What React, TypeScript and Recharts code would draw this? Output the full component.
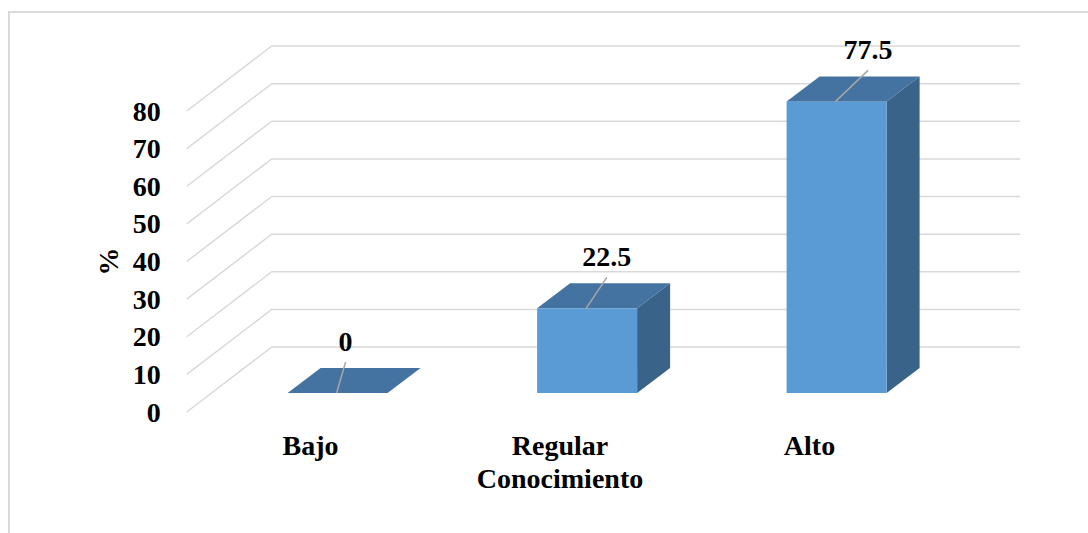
import { BarChart, Bar, XAxis, YAxis, CartesianGrid, LabelList, Label } from 'recharts';

const categories = ['Bajo', 'Regular', 'Alto'];
const porcentajes = [0, 22.5, 77.5];
const yTicks = [0, 10, 20, 30, 40, 50, 60, 70, 80];

const data = categories.map((name, i) => ({ name, value: porcentajes[i] }));

const FONT = '"Liberation Serif", "Times New Roman", serif';
const FRONT = '#5B9BD5';
const TOP = '#4473A1';
const SIDE = '#396388';
const GRID = '#d9d9d9';
// depth of the 3d box and of the walls
const DX = 33;
const DY = -25;

function Box3D(props: any) {
  const { x, y, width, height } = props;
  const w = width;
  const h = Math.max(height, 0);
  return (
    <g>
      <polygon
        points={`${x + w},${y} ${x + w + DX},${y + DY} ${x + w + DX},${y + h + DY} ${x + w},${y + h}`}
        fill={SIDE}
      />
      <rect x={x} y={y} width={w} height={h} fill={FRONT} />
      <polygon
        points={`${x},${y} ${x + w},${y} ${x + w + DX},${y + DY} ${x + DX},${y + DY}`}
        fill={TOP}
      />
    </g>
  );
}

function WallLine(props: any) {
  const { x1, x2, y1 } = props;
  return (
    <polyline
      points={`${x1 - 26},${y1 + 19} ${x1 + 59},${y1 - 46} ${x2 + 59},${y1 - 46}`}
      fill="none"
      stroke={GRID}
      strokeWidth={1.5}
    />
  );
}

function YTick(props: any) {
  const { x, y, payload } = props;
  return (
    <text x={x - 44} y={y + 28.5} textAnchor="end" fontFamily={FONT} fontWeight="bold" fontSize={28} fill="#000">
      {payload.value}
    </text>
  );
}

function XTick(props: any) {
  const { x, y, payload } = props;
  return (
    <text x={x - 27} y={y + 54} textAnchor="middle" fontFamily={FONT} fontWeight="bold" fontSize={28} fill="#000">
      {payload.value}
    </text>
  );
}

function ValueLabel(props: any) {
  const { x, y, width, value } = props;
  const cx = x + width / 2;
  const dx = 8 + (cx - 337.5) * 0.047;
  return (
    <g>
      <line x1={cx - 1} y1={y} x2={cx + dx} y2={y - 31} stroke="#a6a6a6" strokeWidth={1.5} />
      <text x={cx + dx} y={y - 42} textAnchor="middle" fontFamily={FONT} fontWeight="bold" fontSize={28} fill="#000">
        {value}
      </text>
    </g>
  );
}

export default function App() {
  return (
    <div style={{ position: 'relative', width: 1088, height: 533, overflow: 'hidden', background: '#fff' }}>
      <style>{`body{margin:0}`}</style>
      <div
        style={{
          position: 'absolute',
          left: 8,
          top: 11,
          width: 1200,
          height: 700,
          border: `2px solid ${GRID}`,
          pointerEvents: 'none',
        }}
      />
      <BarChart
        width={1088}
        height={533}
        data={data}
        margin={{ top: 92, right: 126.75, bottom: 40, left: 0 }}
        barCategoryGap="30%"
      >
        <CartesianGrid vertical={false} horizontal={(p: any) => <WallLine key={p.key} {...p} />} />
        <XAxis dataKey="name" axisLine={false} tickLine={false} height={100} tick={<XTick />} interval={0}>
          <Label
            content={(p: any) => {
              const vb = p.viewBox;
              return (
                <text
                  x={vb.x + vb.width / 2 - 27}
                  y={vb.y + 95}
                  textAnchor="middle"
                  fontFamily={FONT}
                  fontWeight="bold"
                  fontSize={28}
                  fill="#000"
                >
                  Conocimiento
                </text>
              );
            }}
          />
        </XAxis>
        <YAxis
          width={212.75}
          domain={[0, 80]}
          ticks={yTicks}
          axisLine={false}
          tickLine={false}
          tick={<YTick />}
        >
          <Label
            content={(p: any) => {
              const vb = p.viewBox;
              const cy = vb.y + vb.height / 2 + 19;
              return (
                <text
                  x={108}
                  y={cy}
                  transform={`rotate(-90 108 ${cy})`}
                  textAnchor="middle"
                  dominantBaseline="central"
                  fontFamily={FONT}
                  fontWeight="bold"
                  fontSize={28}
                  fill="#000"
                >
                  %
                </text>
              );
            }}
          />
        </YAxis>
        <Bar dataKey="value" shape={<Box3D />} isAnimationActive={false}>
          <LabelList dataKey="value" content={<ValueLabel />} />
        </Bar>
      </BarChart>
    </div>
  );
}
